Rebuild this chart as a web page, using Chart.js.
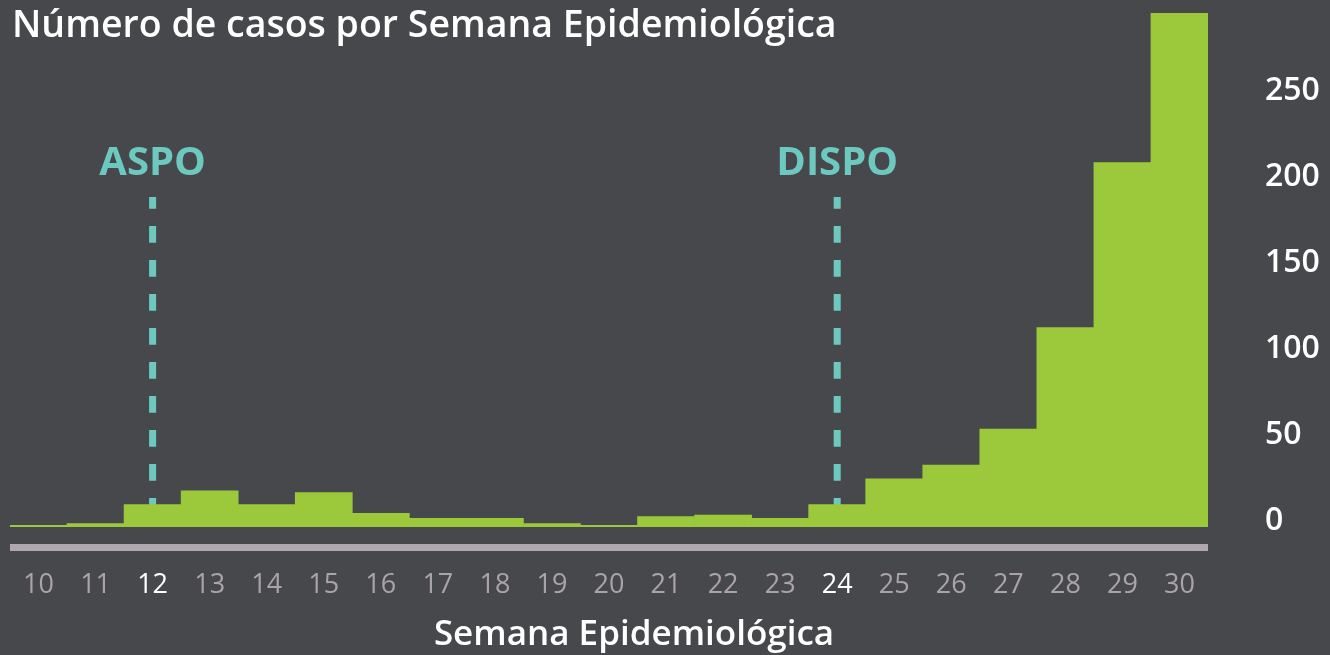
<!DOCTYPE html>
<html lang="es">
<head>
    <meta charset="UTF-8">
    <title>Número de casos por Semana Epidemiológica</title>
    <script src="https://cdn.jsdelivr.net/npm/chart.js@4.4.1/dist/chart.umd.min.js"></script>
    <style>
        html, body { margin: 0; padding: 0; background: #47484c; overflow: hidden; }
        .chart { width: 1330px; height: 655px; position: relative; }
    </style>
</head>
<body>
    <div class="chart">
        <canvas id="casesChart"></canvas>
    </div>

    <script>
        // data
        const weeks = ['10', '11', '12', '13', '14', '15', '16', '17', '18', '19', '20',
                       '21', '22', '23', '24', '25', '26', '27', '28', '29', '30'];
        const cases = [1, 2, 13, 21, 13, 20, 8, 5, 5, 2, 1, 6, 7, 5, 13, 28, 36, 57, 116, 212, 299];
        const yTicks = [0, 50, 100, 150, 200, 250];
        const markerWeeks = ['12', '24'];
        const markerLabels = ['ASPO', 'DISPO'];

        const chartTitle = 'Número de casos por Semana Epidemiológica';
        const xTitle = 'Semana Epidemiológica';

        const FONT = '"Open Sans", "Noto Sans", sans-serif';
        const TEAL = '#6dc9c0';

        // dashed markers (under the bars), title texts and the grey base rule
        const decorations = {
            id: 'decorations',
            beforeDatasetsDraw(chart) {
                const { ctx, chartArea, scales } = chart;
                ctx.save();
                ctx.strokeStyle = TEAL;
                ctx.lineWidth = 7;
                ctx.setLineDash([16.7, 17.3]);
                ctx.lineDashOffset = 5;
                markerWeeks.forEach(w => {
                    const x = scales.x.getPixelForValue(weeks.indexOf(w));
                    ctx.beginPath();
                    ctx.moveTo(x, 197);
                    ctx.lineTo(x, chartArea.bottom);
                    ctx.stroke();
                });
                ctx.restore();
            },
            afterDraw(chart) {
                const { ctx, chartArea, scales } = chart;
                ctx.save();
                // grey rule under the bars
                ctx.fillStyle = '#b0a8ac';
                ctx.fillRect(chartArea.left, chartArea.bottom + 17, chartArea.right - chartArea.left, 7);

                // marker labels
                ctx.fillStyle = TEAL;
                ctx.font = `bold 40px ${FONT}`;
                ctx.textAlign = 'center';
                ctx.textBaseline = 'alphabetic';
                markerWeeks.forEach((w, i) => {
                    const x = scales.x.getPixelForValue(weeks.indexOf(w));
                    ctx.fillText(markerLabels[i], x, 175);
                });

                // chart title
                ctx.fillStyle = '#ffffff';
                ctx.font = `600 37.5px ${FONT}`;
                ctx.textAlign = 'left';
                ctx.fillText(chartTitle, 12, 37);

                // x axis title
                ctx.font = `600 35px ${FONT}`;
                ctx.textAlign = 'center';
                ctx.fillText(xTitle, 634, 645);
                ctx.restore();
            }
        };

        const ctx = document.getElementById('casesChart').getContext('2d');
        new Chart(ctx, {
            type: 'bar',
            data: {
                labels: weeks,
                datasets: [{
                    label: 'Casos',
                    data: cases,
                    backgroundColor: '#9bc93b',
                    borderWidth: 0,
                    barPercentage: 1,
                    categoryPercentage: 1
                }]
            },
            options: {
                responsive: true,
                maintainAspectRatio: false,
                animation: false,
                layout: {
                    padding: { left: 10, top: 13, right: 0, bottom: 0 }
                },
                plugins: {
                    legend: { display: false },
                    title: { display: false },
                    tooltip: { enabled: false }
                },
                scales: {
                    x: {
                        grid: { display: false, drawTicks: false },
                        border: { display: false },
                        ticks: {
                            padding: 42,
                            font: { family: FONT, size: 27 },
                            color: c => markerWeeks.includes(weeks[c.index]) ? '#ffffff' : '#aaa3a7'
                        },
                        afterFit: scale => {
                            scale.height = 128;
                            scale.paddingLeft = 0;
                            scale.paddingRight = 0;
                        }
                    },
                    y: {
                        position: 'right',
                        min: 0,
                        max: 299,
                        grid: { display: false, drawTicks: false },
                        border: { display: false },
                        afterBuildTicks: scale => { scale.ticks = yTicks.map(v => ({ value: v })); },
                        ticks: {
                            padding: 57,
                            labelOffset: -6,
                            color: '#ffffff',
                            font: { family: FONT, size: 32, weight: '600' }
                        },
                        afterFit: scale => {
                            scale.width = 122;
                            scale.paddingTop = 0;
                            scale.paddingBottom = 0;
                        }
                    }
                }
            },
            plugins: [decorations]
        });
    </script>
</body>
</html>
